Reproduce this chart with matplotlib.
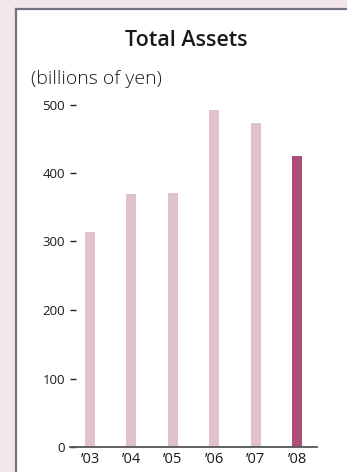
import matplotlib.pyplot as plt
from matplotlib.patches import Rectangle
from matplotlib.lines import Line2D

years = ["\u201903", "\u201904", "\u201905", "\u201906", "\u201907", "\u201908"]
assets = [314, 369, 371, 492, 473, 425]
yticks = [0, 100, 200, 300, 400, 500]

light = "#E0C2CD"
dark = "#AD5079"
colors = [light] * 5 + [dark]

plt.rcParams['font.family'] = ['Open Sans', 'DejaVu Sans']

W, H = 347, 472
fig = plt.figure(figsize=(W / 100, H / 100), dpi=100)
fig.patch.set_facecolor("#F2E6EB")

# white panel with grey left/top border
fig.patches.append(Rectangle((15 / W, 0), 1, 1 - 9 / H, transform=fig.transFigure,
                             facecolor="white", edgecolor="none", zorder=-5))
fig.lines.append(Line2D([15.5 / W, 15.5 / W], [0, 1 - 8.5 / H], transform=fig.transFigure,
                        color="#6E7480", lw=1.6, zorder=-4))
fig.lines.append(Line2D([15.5 / W, 1], [1 - 8.5 / H, 1 - 8.5 / H], transform=fig.transFigure,
                        color="#6E7480", lw=1.6, zorder=-4))

ax = fig.add_axes([70 / W, 25 / H, 247 / W, 342.5 / H])
ax.set_zorder(3)
ax.set_facecolor("none")
x = range(len(years))
ax.bar(x, assets, width=0.24, color=colors, clip_on=False)
ax.set_xlim(-0.483, 5.48)
ax.set_ylim(0, 500)

for s in ["top", "right", "left"]:
    ax.spines[s].set_visible(False)
ax.spines["bottom"].set_color("#555555")
ax.spines["bottom"].set_linewidth(1.3)
ax.spines["bottom"].set_zorder(5)

ax.set_yticks(yticks)
ax.set_yticklabels([str(v) for v in yticks])
ax.tick_params(axis="y", direction="in", length=4.3, width=1.0, color="#222222",
               pad=3.5, labelsize=9.5, labelcolor="#1a1a1a")
ax.set_xticks(list(x))
ax.set_xticklabels(years)
ax.tick_params(axis="x", length=0, pad=3.5, labelsize=10.5, labelcolor="#1a1a1a")

fig.text(186 / W, 1 - 41 / H, "Total Assets", ha="center", va="center",
         fontsize=15.5, fontweight="semibold", color="#1a1a1a", zorder=4)
fig.text(31 / W, 1 - 79 / H, "(billions of yen)", ha="left", va="center",
         fontsize=14, fontweight="light", color="#1a1a1a", zorder=4)

fig.savefig("out.png", dpi=100, facecolor=fig.get_facecolor())
